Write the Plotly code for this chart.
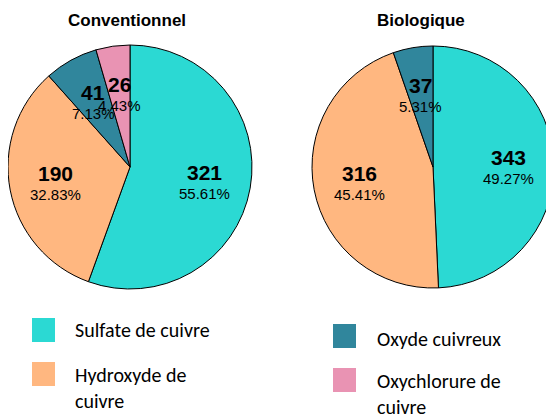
import math
import plotly.graph_objects as go

# page has an 8px body margin; figure is sized/positioned to compensate
OFF = 8
W, H = 554 - OFF, 417 - OFF

categories = ["Sulfate de cuivre", "Hydroxyde de cuivre", "Oxyde cuivreux", "Oxychlorure de cuivre"]
colors = ["#2BD9D3", "#FFB780", "#30869C", "#E993B3"]

conv_values = [321, 190, 41, 26]
conv_pcts = ["55.61%", "32.83%", "7.13%", "4.43%"]

bio_values = [343, 316, 37]
bio_pcts = ["49.27%", "45.41%", "5.31%"]

titles = ["Conventionnel", "Biologique"]


def px(x):
    return (x - OFF) / W


def py(y):
    return 1 - (y - OFF) / H


def dom(x0, x1, y0, y1):
    return dict(x=[max(px(x0), 0), min(px(x1), 1)], y=[py(y1), py(y0)])


d_conv = dom(8, 252, 45, 289)
d_bio = dom(312, 556, 45, 289)

fig = go.Figure()
for vals, d, n in [(conv_values, d_conv, 4), (bio_values, d_bio, 3)]:
    fig.add_trace(go.Pie(
        labels=categories[:n], values=vals, domain=d, sort=False,
        direction="clockwise", rotation=0,
        marker=dict(colors=colors[:n], line=dict(color="black", width=1)),
        textinfo="none", hoverinfo="skip", showlegend=False,
    ))

annotations = []
shapes = []


def add_labels(vals, pcts, d):
    cx = (d["x"][0] + d["x"][1]) / 2
    cy = (d["y"][0] + d["y"][1]) / 2
    r = min((d["x"][1] - d["x"][0]) * W, (d["y"][1] - d["y"][0]) * H) / 2
    tot = sum(vals)
    cum = 0
    for v, p in zip(vals, pcts):
        mid = (cum + v / 2) / tot * 2 * math.pi
        cum += v
        dx = 0.62 * r * math.sin(mid)
        dy = 0.62 * r * math.cos(mid) - 2
        annotations.append(dict(x=cx, y=cy, xref="paper", yref="paper", showarrow=False,
                                xanchor="center", yanchor="middle",
                                text="<b>%d</b>" % v, xshift=dx, yshift=dy + 10,
                                font=dict(family="Liberation Sans, Arial, sans-serif", size=21, color="black")))
        annotations.append(dict(x=cx, y=cy, xref="paper", yref="paper", showarrow=False,
                                xanchor="center", yanchor="middle",
                                text=p, xshift=dx, yshift=dy - 11,
                                font=dict(family="Liberation Sans, Arial, sans-serif", size=15, color="black")))


add_labels(conv_values, conv_pcts, d_conv)
add_labels(bio_values, bio_pcts, d_bio)

# titles
for t, xp in zip(titles, [127, 421]):
    annotations.append(dict(x=px(xp), y=py(20), xref="paper", yref="paper", showarrow=False,
                            xanchor="center", yanchor="middle",
                            text="<b>%s</b>" % t,
                            font=dict(family="Liberation Sans Narrow, Arial Narrow, Liberation Sans, sans-serif",
                                      size=17, color="black")))

# custom legend
legend_items = [
    (categories[0], colors[0], 32, 318, 73, 330),
    ("Hydroxyde de<br>cuivre", colors[1], 32, 362, 73, 388),
    (categories[2], colors[2], 333, 324, 375, 339),
    ("Oxychlorure de<br>cuivre", colors[3], 333, 368, 375, 394),
]
for txt, col, sx, sy, tx, ty in legend_items:
    shapes.append(dict(type="rect", xref="paper", yref="paper",
                       x0=px(sx), x1=px(sx + 23), y0=py(sy + 24), y1=py(sy),
                       fillcolor=col, line=dict(width=0)))
    annotations.append(dict(x=px(tx), y=py(ty), xref="paper", yref="paper", showarrow=False,
                            xanchor="left", yanchor="middle", align="left", text=txt,
                            font=dict(family="Carlito, Noto Sans, sans-serif", size=20, color="black")))

fig.update_layout(
    width=W, height=H, margin=dict(l=0, r=0, t=0, b=0),
    paper_bgcolor="white", plot_bgcolor="white",
    annotations=annotations, shapes=shapes,
)

fig.write_html("out.html")
